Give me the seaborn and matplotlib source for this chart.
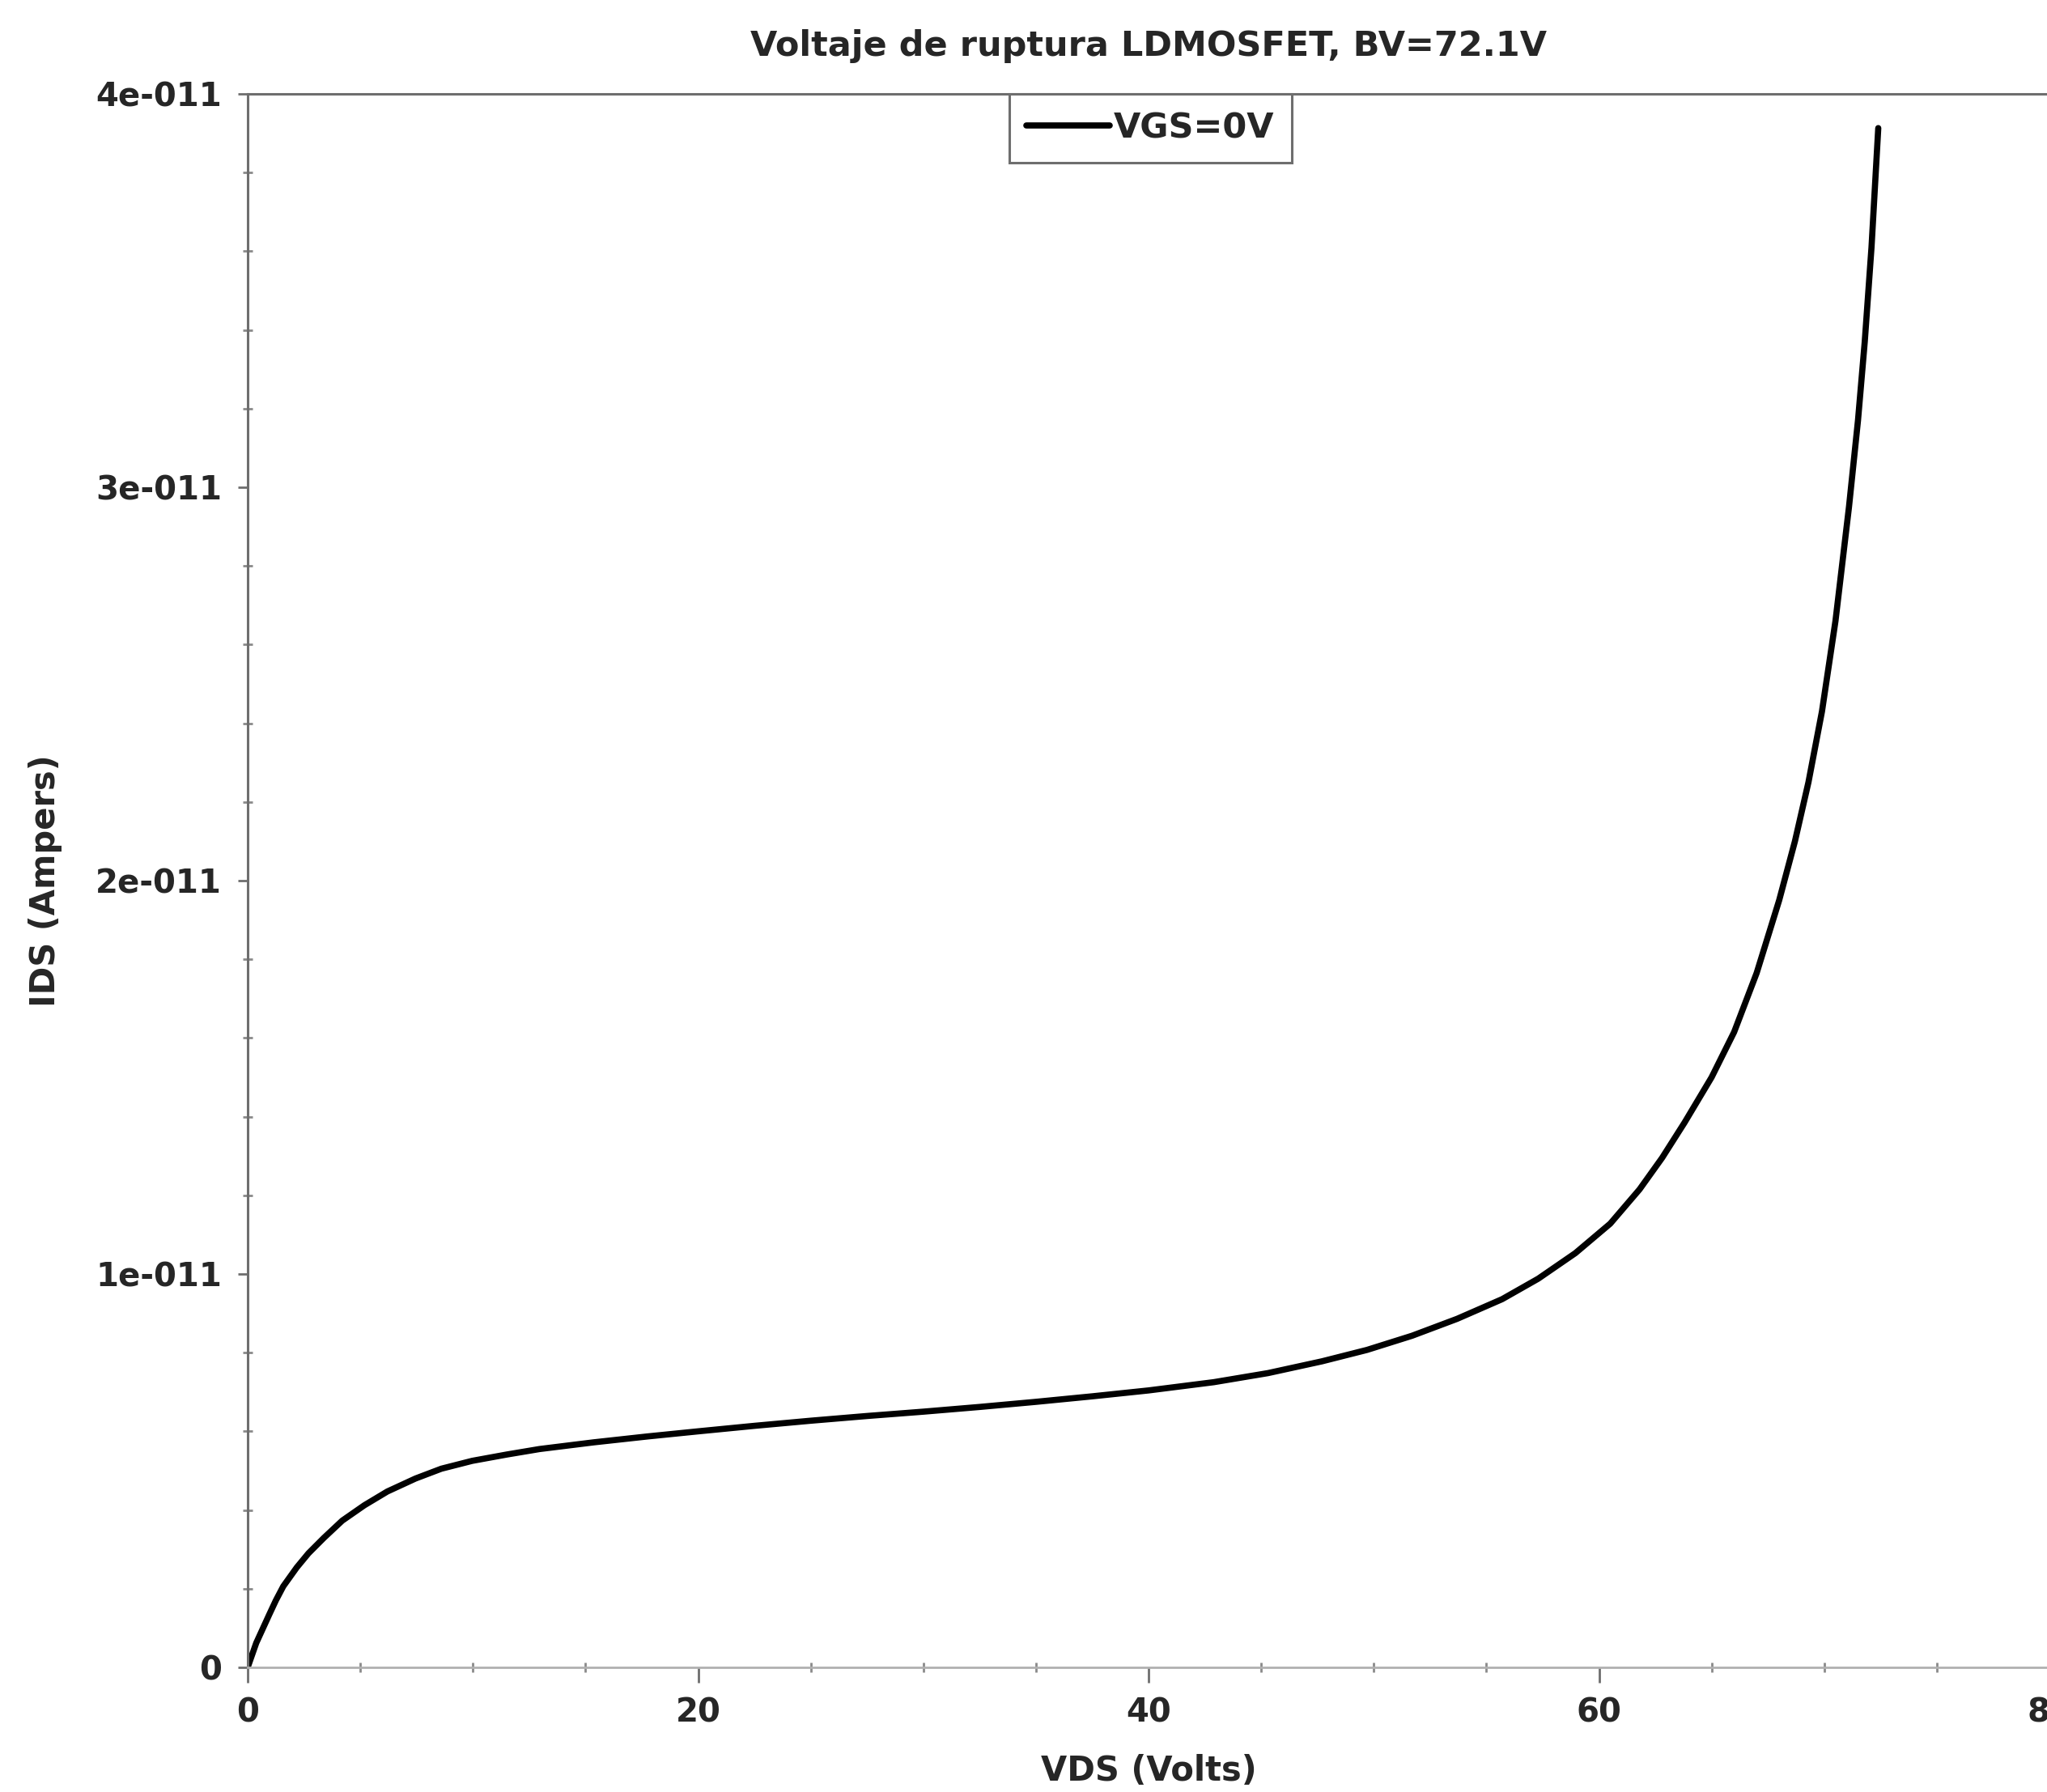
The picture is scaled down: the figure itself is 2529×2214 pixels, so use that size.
import matplotlib
matplotlib.use("Agg")
import matplotlib.pyplot as plt
import seaborn as sns
import pandas as pd
from matplotlib.ticker import FixedLocator, MultipleLocator

# ---- data ----
vds = [0, 0.38, 0.7, 0.98, 1.25, 1.58, 2.18, 2.7, 3.38, 4.2, 5.18, 6.2, 7.45,
       8.6, 9.97, 11.5, 12.96, 15.36, 17.75, 20, 22.5, 25, 27.5, 30, 32.5, 35,
       37.5, 40, 42.9, 45.3, 47.7, 49.7, 51.7, 53.7, 55.7, 57.3, 58.95, 60.5,
       61.8, 62.8, 63.8, 65.0, 66.0, 67.0, 68.0, 68.7, 69.3, 69.9, 70.5, 71.1,
       71.5, 71.8, 72.1, 72.4]
ids_e11 = [0, 0.062, 0.102, 0.137, 0.170, 0.206, 0.254, 0.290, 0.329, 0.373,
           0.412, 0.447, 0.480, 0.505, 0.525, 0.541, 0.555, 0.572, 0.587, 0.600,
           0.614, 0.627, 0.639, 0.650, 0.662, 0.675, 0.689, 0.704, 0.725, 0.748,
           0.778, 0.807, 0.843, 0.886, 0.936, 0.988, 1.053, 1.128, 1.215, 1.295,
           1.385, 1.500, 1.615, 1.765, 1.950, 2.100, 2.250, 2.430, 2.660, 2.950,
           3.170, 3.370, 3.610, 3.913]
ids = [v * 1e-11 for v in ids_e11]

series_label = "VGS=0V"
title = "Voltaje de ruptura LDMOSFET, BV=72.1V"
xlabel = "VDS (Volts)"
ylabel = "IDS (Ampers)"
xticks = [0, 20, 40, 60, 80]
xticklabels = ["0", "20", "40", "60", "80"]
yticks = [0, 1e-11, 2e-11, 3e-11, 4e-11]
yticklabels = ["0", "1e-011", "2e-011", "3e-011", "4e-011"]

df = pd.DataFrame({"VDS": vds, "IDS": ids})

sns.set_theme(style="white")
plt.rcParams["font.family"] = ["DejaVu Sans"]
plt.rcParams["font.weight"] = "bold"

W, H = 2529, 2214
fig = plt.figure(figsize=(W / 100, H / 100), dpi=100)
fig.patch.set_facecolor("white")
left = 306 / W
right = 2532 / W
bottom = (H - 2060) / H
top = (H - 116) / H
ax = fig.add_axes([left, bottom, right - left, top - bottom])

sns.lineplot(data=df, x="VDS", y="IDS", ax=ax, color="black",
             linewidth=5.5, label=series_label, sort=True, estimator=None)
for ln in ax.get_lines():
    ln.set_solid_joinstyle("round")
    ln.set_solid_capstyle("round")

ax.set_xlim(0, 80)
ax.set_ylim(0, 4e-11)
ax.xaxis.set_major_locator(FixedLocator(xticks))
ax.set_xticklabels(xticklabels)
ax.yaxis.set_major_locator(FixedLocator(yticks))
ax.set_yticklabels(yticklabels)
ax.xaxis.set_minor_locator(MultipleLocator(5))
ax.yaxis.set_minor_locator(MultipleLocator(2e-12))

for s in ["left", "top", "right"]:
    ax.spines[s].set_color("#6e6e6e")
    ax.spines[s].set_linewidth(2.2)
ax.spines["bottom"].set_color("#b0b0b0")
ax.spines["bottom"].set_linewidth(2.0)

ax.tick_params(axis="both", which="major", direction="out", length=9,
               width=2, color="#6e6e6e", labelsize=29, pad=14,
               bottom=True, left=True)
ax.tick_params(axis="x", which="major", length=14, pad=12)
ax.tick_params(axis="both", which="minor", direction="inout", length=8,
               width=2, color="#8a8a8a", bottom=True, left=True)
for lab in ax.get_xticklabels() + ax.get_yticklabels():
    lab.set_fontweight("bold")

ax.set_xlabel(xlabel, fontsize=30, fontweight="bold")
ax.set_ylabel(ylabel, fontsize=30, fontweight="bold")
ax.xaxis.set_label_coords(0.5, -0.055)
ax.yaxis.set_label_coords(-0.103, 0.5)
ax.set_title(title, fontsize=31, fontweight="bold", y=1.026, va="center")

leg = ax.legend(loc="upper center", bbox_to_anchor=(0.501, 1.0),
                borderaxespad=0, frameon=True, fancybox=False,
                handlelength=2.4, handletextpad=0.1,
                borderpad=0.5, prop={"weight": "bold", "size": 31})
leg.get_frame().set_edgecolor("#6e6e6e")
leg.get_frame().set_linewidth(2.2)
leg.get_frame().set_facecolor("white")
leg.get_frame().set_alpha(1)
for line in leg.get_lines():
    line.set_linewidth(5.5)

fig.savefig("out.png", dpi=100, facecolor="white")
